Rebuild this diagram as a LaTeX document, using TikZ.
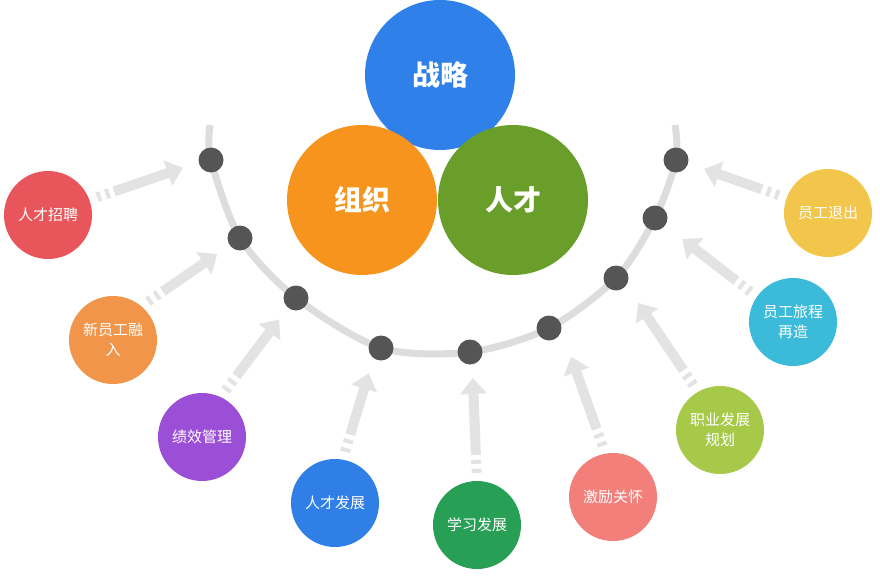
\documentclass[tikz,border=0pt]{standalone}
\usepackage{fontspec}
\setmainfont{Noto Sans CJK SC}
\usetikzlibrary{arrows.meta}
\definecolor{cBlue}{HTML}{2F80E8}
\definecolor{cOrange}{HTML}{F7941D}
\definecolor{cGreen}{HTML}{6A9E2A}
\definecolor{cRed}{HTML}{E8555A}
\definecolor{cPeach}{HTML}{F0954A}
\definecolor{cPurple}{HTML}{9B4FD6}
\definecolor{cBlue2}{HTML}{2F7FE6}
\definecolor{cGreen2}{HTML}{27A055}
\definecolor{cSalmon}{HTML}{F37F7A}
\definecolor{cLime}{HTML}{A6C94A}
\definecolor{cCyan}{HTML}{3BBBD9}
\definecolor{cYellow}{HTML}{F2C64A}
\definecolor{cArc}{HTML}{DDDDDD}
\definecolor{cDot}{HTML}{555555}
\definecolor{cArrow}{HTML}{E3E3E3}
\tikzset{
  core/.style={circle, fill=#1, minimum size=150pt, inner sep=0pt, text=white, font=\fontsize{28}{30}\selectfont\bfseries},
  item/.style={circle, fill=#1, minimum size=88pt, inner sep=0pt, text=white, align=center, text width=70pt, font=\fontsize{15}{20}\selectfont},
  dot/.style={circle, fill=cDot, minimum size=25pt, inner sep=0pt},
  flow/.style={draw=cArrow, line width=10pt, -{Triangle[length=16pt,width=26pt]}, dash pattern=on 4pt off 5pt on 4pt off 5pt on 200pt, shorten <=8pt, shorten >=18pt}
}
\begin{document}
\begin{tikzpicture}[x=1pt, y=-1pt]
	\useasboundingbox (0,0) rectangle (880,578);
	
	% arc and points
	\coordinate (top l) at (210,125);
	\coordinate (top r) at (675,125);
	\coordinate (p1) at (211,160);
	\coordinate (p2) at (240,238);
	\coordinate (p3) at (296,298);
	\coordinate (p4) at (381,348);
	\coordinate (p5) at (470,352);
	\coordinate (p6) at (549,328);
	\coordinate (p7) at (616,278);
	\coordinate (p8) at (655,218);
	\coordinate (p9) at (676,160);
	\draw [cArc, line width=7pt] plot [smooth] coordinates {(top l) (p1) (p2) (p3) (p4) (p5) (p6) (p7) (p8) (p9) (top r)};
	\foreach \i in {1,...,9}
		\node [dot] (d\i) at (p\i) {};
	
	% core circles
	\node [core=cBlue]   (strategy) at (440,75)  {战略};
	\node [core=cOrange] (org)      at (362,200) {组织};
	\node [core=cGreen]  (talent)   at (513,200) {人才};
	
	% items
	\node [item=cRed]    (recruit)  at (48,215)  {人才招聘};
	\node [item=cPeach]  (onboard)  at (113,340) {新员工融\\入};
	\node [item=cPurple] (perform)  at (202,437) {绩效管理};
	\node [item=cBlue2]  (develop)  at (335,503) {人才发展};
	\node [item=cGreen2] (learn)    at (477,525) {学习发展};
	\node [item=cSalmon] (care)     at (613,497) {激励关怀};
	\node [item=cLime]   (career)   at (720,430) {职业发展\\规划};
	\node [item=cCyan]   (journey)  at (793,322) {员工旅程\\再造};
	\node [item=cYellow] (leave)    at (828,213) {员工退出};
	
	% arrows
	\coordinate (h1) at (200,162);
	\coordinate (h2) at (232,244);
	\coordinate (h3) at (290,305);
	\coordinate (h4) at (374,356);
	\coordinate (h5) at (472,360);
	\coordinate (h6) at (565,340);
	\coordinate (h7) at (628,288);
	\coordinate (h8) at (668,228);
	\coordinate (h9) at (687,163);
	\path [flow] (recruit.20)  -- (h1);
	\path [flow] (onboard.50)  -- (h2);
	\path [flow] (perform.65)  -- (h3);
	\path [flow] (develop.80)  -- (h4);
	\path [flow] (learn.90)    -- (h5);
	\path [flow] (care.100)    -- (h6);
	\path [flow] (career.120)  -- (h7);
	\path [flow] (journey.145) -- (h8);
	\path [flow] (leave.160)   -- (h9);
	
\end{tikzpicture}
\end{document}
